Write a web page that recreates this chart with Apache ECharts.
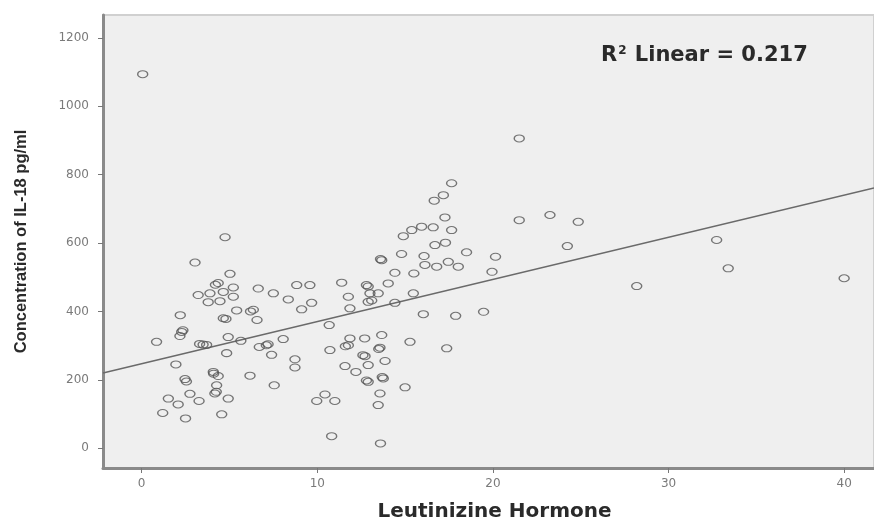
<!DOCTYPE html>
<html>
<head>
<meta charset="utf-8">
<script src="https://cdn.jsdelivr.net/npm/echarts@6/dist/echarts.min.js"></script>
<style>
  html, body { margin: 0; padding: 0; background: #fff; }
  #chart { width: 874px; height: 522px; }
</style>
</head>
<body>
<div id="chart"></div>
<script>
// LH (x) vs IL-18 concentration (y)
const points = [
  [0.06, 1094], [4.75, 617], [3.04, 543], [5.03, 510], [4.36, 483], [4.2, 478],
  [5.22, 470], [6.64, 467], [7.5, 453], [8.35, 435], [8.83, 477], [9.58, 477],
  [3.22, 448], [3.89, 453], [4.65, 457], [5.22, 443], [3.79, 427], [4.46, 430],
  [5.41, 403], [6.36, 405], [6.2, 400], [6.57, 375], [4.65, 380], [4.8, 378],
  [2.2, 389], [2.28, 340], [2.35, 345], [2.18, 328], [0.85, 311],
  [3.3, 305], [3.5, 303], [3.7, 302], [4.93, 325], [5.65, 314], [4.84, 278],
  [6.7, 296], [7.1, 301], [7.2, 304], [7.4, 273], [8.06, 319], [1.95, 245],
  [8.73, 260], [8.73, 236], [6.17, 212], [2.47, 202], [2.55, 195], [4.08, 223],
  [4.1, 218], [4.36, 211], [4.27, 184], [4.17, 160], [4.25, 165], [4.93, 145],
  [7.55, 184], [1.52, 145], [2.08, 128], [2.75, 159], [3.27, 138], [1.2, 103],
  [2.5, 87], [4.56, 99], [9.11, 406], [9.68, 425],
  [17.65, 775], [17.18, 740], [16.66, 724], [17.27, 675], [17.65, 638], [16.6, 646],
  [15.94, 648], [15.38, 638], [14.9, 620], [16.7, 594], [17.3, 601], [18.5, 573],
  [20.15, 560], [19.95, 516], [14.8, 568], [13.67, 550], [13.6, 553], [16.08, 562],
  [16.13, 536], [16.8, 531], [17.46, 545], [18.03, 531], [14.42, 513], [15.5, 511],
  [14.04, 482], [15.47, 453], [12.8, 477], [12.9, 473], [13.0, 453], [13.47, 453],
  [12.9, 428], [13.1, 432], [14.42, 425], [11.39, 484], [11.77, 443], [11.86, 409],
  [16.04, 392], [17.88, 387], [19.47, 399], [10.68, 360], [11.86, 321], [12.7, 321],
  [13.67, 331], [11.77, 301], [11.6, 298], [13.57, 294], [13.5, 290], [15.28, 311],
  [17.37, 292], [10.72, 287], [12.72, 269], [12.6, 272], [13.86, 255], [11.58, 240],
  [12.2, 223], [12.9, 243], [12.9, 194], [12.8, 198], [13.76, 204], [13.7, 208],
  [15.0, 178], [13.57, 160], [13.47, 126], [10.44, 157], [9.97, 138], [11.0, 138],
  [10.82, 35], [13.6, 14],
  [21.5, 906], [21.5, 667], [23.25, 682], [24.86, 662], [24.24, 591],
  [32.74, 609], [33.4, 526], [28.19, 474], [40.0, 497]
]
// fit line ends, at the axis limits
const fitLine = [[-2.2, 220], [41.7, 761]]
const xTicks = [0, 10, 20, 30, 40]
const yTicks = [0, 200, 400, 600, 800, 1000, 1200]
const rSquared = '0.217'

const chart = echarts.init(document.getElementById('chart'))
const font = 'Liberation Sans'
const wide = 'DejaVu Sans'

chart.setOption({
  animation: false,
  textStyle: { fontFamily: font },
  grid: {
    left: 103, top: 15, right: 0, bottom: 54,
    outerBoundsMode: 'none',
    containLabel: false,
    show: true,
    backgroundColor: '#efefef',
    borderColor: '#d0d0d0',
    borderWidth: 2
  },
  xAxis: {
    type: 'value',
    min: -2.2,
    max: 41.7,
    name: 'Leutinizine Hormone',
    nameLocation: 'middle',
    nameGap: 34,
    nameTextStyle: { fontSize: 20, fontWeight: 'bold', color: '#2a2a2a', fontFamily: wide, padding: [0, 0, 0, 12] },
    axisLine: { show: true, onZero: false, lineStyle: { color: '#8a8a8a', width: 3 } },
    axisTick: { show: true, length: 5, customValues: xTicks, lineStyle: { color: '#777' } },
    axisLabel: { customValues: xTicks, color: '#7a7a7a', fontSize: 12, fontFamily: wide, margin: 10, formatter: v => String(v) },
    splitLine: { show: false }
  },
  yAxis: {
    type: 'value',
    min: -58,
    max: 1267,
    name: 'Concentration of IL-18 pg/ml',
    nameLocation: 'middle',
    nameGap: 73,
    nameTextStyle: { fontSize: 16.5, fontWeight: 'bold', color: '#2a2a2a', fontFamily: font },
    axisLine: { show: true, onZero: false, lineStyle: { color: '#8a8a8a', width: 3 } },
    axisTick: { show: true, length: 5, customValues: yTicks, lineStyle: { color: '#777' } },
    axisLabel: { customValues: yTicks, color: '#7a7a7a', fontSize: 12, fontFamily: wide, margin: 14, formatter: v => String(v) },
    splitLine: { show: false }
  },
  graphic: [{
    type: 'text',
    left: 601,
    top: 45,
    style: {
      text: '{b|R}{s|2}{b| Linear = ' + rSquared + '}',
      rich: {
        b: { fontSize: 21, fontWeight: 'bold', fill: '#2a2a2a', fontFamily: wide },
        s: { fontSize: 12, fontWeight: 'bold', fill: '#2a2a2a', fontFamily: wide, verticalAlign: 'top', padding: [0, 1, 10, 1] }
      }
    }
  }],
  series: [
    {
      type: 'line',
      data: fitLine,
      symbol: 'none',
      silent: true,
      lineStyle: { color: '#6a6a6a', width: 1.5 },
      z: 3
    },
    {
      type: 'scatter',
      data: points,
      symbol: 'circle',
      symbolSize: [10, 7],
      itemStyle: { color: 'transparent', borderColor: '#555', borderWidth: 1.2 },
      z: 4
    }
  ]
})
</script>
</body>
</html>
